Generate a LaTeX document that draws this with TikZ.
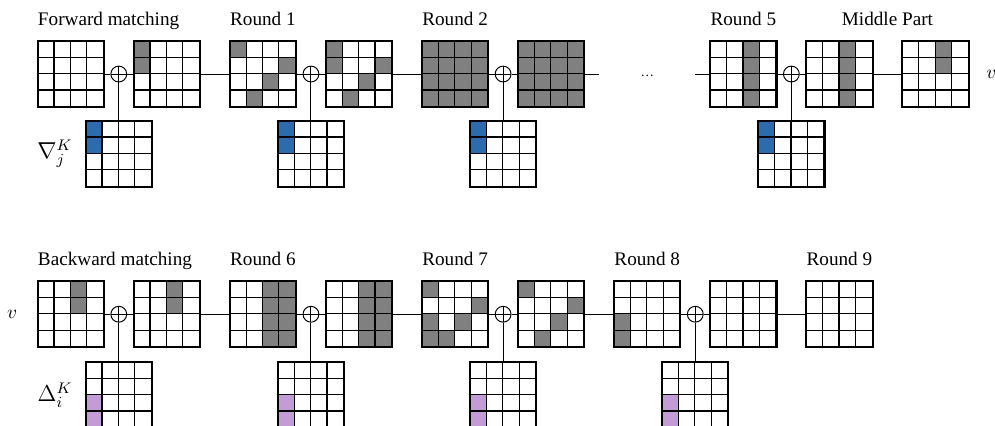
\documentclass[tikz,border=0pt]{standalone}
\usepackage{fontspec}
\setmainfont{Liberation Serif}
\usetikzlibrary{positioning, calc}

\definecolor{cellgray}{RGB}{128,128,128}
\definecolor{nablablue}{RGB}{44,108,174}
\definecolor{deltapurple}{RGB}{195,155,214}

\newcommand{\cellsz}{0.3}
% fill the cells r/c of a grid node
\newcommand{\fillcells}[3]{%
    \foreach \r/\c in {#3}
        \fill[#2] ($(#1.north west)+(\c*\cellsz,-\r*\cellsz)$) rectangle ++(\cellsz,-\cellsz);
}
% inner lines and border of a grid node
\newcommand{\gridlines}[1]{%
    \foreach \k in {1,2,3} {
        \draw[cellline] ($(#1.north west)+(\k*\cellsz,0)$) -- ++(0,-4*\cellsz);
        \draw[cellline] ($(#1.north west)+(0,-\k*\cellsz)$) -- ++(4*\cellsz,0);
    }
    \draw[cellborder] (#1.south west) rectangle (#1.north east);
}

\begin{document}
\begin{tikzpicture}[
    gridbox/.style={rectangle, fill=white, minimum size=1.2cm, inner sep=0pt},
    cellline/.style={line width=0.6pt},
    cellborder/.style={line width=1.1pt},
    xorop/.style={circle, draw, fill=white, minimum size=0.29cm, inner sep=0pt, line width=0.5pt,
        path picture={\draw[line width=0.5pt] (path picture bounding box.north) -- (path picture bounding box.south)
            (path picture bounding box.west) -- (path picture bounding box.east);}},
    wire/.style={line width=0.5pt},
    lbl/.style={inner sep=0pt, text depth=0pt}
]
    \useasboundingbox (-1.296,1.356) rectangle (16.93,-6.43);
    \clip (-1.296,1.356) rectangle (16.93,-6.43);

    % forward matching row
    \foreach \i in {0,1,2,3,4,5,7,8,9}
        \node[gridbox] (t\i) at (\i*1.76,0) {};
    \foreach \x [count=\k from 0] in {0.5,2.5,4.5,7.5} {
        \node[xorop] (x\k) at (\x*1.76,0) {};
        \node[gridbox] (n\k) at (\x*1.76,-1.46) {};
    }
    \node[font=\scriptsize] (dots) at (6*1.76,-0.03) {\dots};
    \coordinate (dl) at ($(dots)+(-0.88,0.03)$);
    \coordinate (dr) at ($(dots)+(0.88,0.03)$);

    % backward matching row
    \foreach \i in {0,...,8}
        \node[gridbox] (b\i) at (\i*1.76,-4.4) {};
    \foreach \x [count=\k from 0] in {0.5,2.5,4.5,6.5} {
        \node[xorop] (y\k) at (\x*1.76,-4.4) {};
        \node[gridbox] (d\k) at (\x*1.76,-5.88) {};
    }

    \draw[wire] (t0) -- (x0) -- (t1);
    \draw[wire] (t1) -- (t2) -- (x1) -- (t3) -- (t4) -- (x2) -- (t5) -- (dl);
    \draw[wire] (dr) -- (t7) -- (x3) -- (t8) -- (t9);
    \foreach \k in {0,...,3}
        \draw[wire] (x\k) -- (n\k);
    \draw[wire] (b0) -- (y0) -- (b1) -- (b2) -- (y1) -- (b3) -- (b4) -- (y2) -- (b5);
    \draw[wire] (b5) -- (b6) -- (y3) -- (b7) -- (b8);
    \foreach \k in {0,...,3}
        \draw[wire] (y\k) -- (d\k);

    % cell states
    \fillcells{t1}{cellgray}{0/0,1/0}
    \fillcells{t2}{cellgray}{0/0,1/3,2/2,3/1}
    \fillcells{t3}{cellgray}{0/0,1/0,1/3,2/2,3/1}
    \fill[cellgray] (t4.south west) rectangle (t4.north east);
    \fill[cellgray] (t5.south west) rectangle (t5.north east);
    \fillcells{t7}{cellgray}{0/2,1/2,2/2,3/2}
    \fillcells{t8}{cellgray}{0/2,1/2,2/2,3/2}
    \fillcells{t9}{cellgray}{0/2,1/2}
    \fillcells{b0}{cellgray}{0/2,1/2}
    \fillcells{b1}{cellgray}{0/2,1/2}
    \fillcells{b2}{cellgray}{0/2,1/2,2/2,3/2,0/3,1/3,2/3,3/3}
    \fillcells{b3}{cellgray}{0/2,1/2,2/2,3/2,0/3,1/3,2/3,3/3}
    \fillcells{b4}{cellgray}{0/0,1/3,2/0,2/2,3/0,3/1}
    \fillcells{b5}{cellgray}{0/0,1/3,2/2,3/1}
    \fillcells{b6}{cellgray}{2/0,3/0}
    \foreach \k in {0,...,3} {
        \fillcells{n\k}{nablablue}{0/0,1/0}
        \fillcells{d\k}{deltapurple}{2/0,3/0}
    }

    \foreach \g in {t0,t1,t2,t3,t4,t5,t7,t8,t9,b0,b1,b2,b3,b4,b5,b6,b7,b8,n0,n1,n2,n3,d0,d1,d2,d3} {
        \gridlines{\g}
    }

    % labels
    \node[lbl, above right=0.28cm and 0cm of t0.north west] {Forward matching};
    \node[lbl, above=0.28cm of t2] {Round 1};
    \node[lbl, above=0.28cm of t4] {Round 2};
    \node[lbl, above=0.28cm of t7] {Round 5};
    \coordinate (mid) at ($(t8.north)!0.5!(t9.north)$);
    \node[lbl, above=0.28cm of mid] {Middle Part};
    \node[lbl, above right=0.28cm and 0cm of b0.north west] {Backward matching};
    \node[lbl, above=0.28cm of b2] {Round 6};
    \node[lbl, above=0.28cm of b4] {Round 7};
    \node[lbl, above=0.28cm of b6] {Round 8};
    \node[lbl, above=0.28cm of b8] {Round 9};

    \node[right=0.2cm of t9] (vout) {$v$};
    \node[left=0.25cm of b0] (vin) {$v$};
    \node[left=0.12cm of n0, font=\large] (nab) {$\nabla_j^K$};
    \node[left=0.12cm of d0, font=\large] (del) {$\Delta_i^K$};
\end{tikzpicture}
\end{document}
